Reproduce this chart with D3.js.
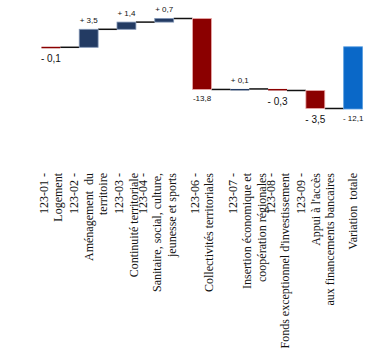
<!DOCTYPE html>
<html>
<head>
<meta charset="utf-8">
<script src="https://cdn.jsdelivr.net/npm/d3@7"></script>
<style>
    body { margin: 0; background: #fff; }
    svg { display: block; }
</style>
</head>
<body>
<svg id="chart" width="376" height="362"></svg>
<script>
// categories (wrapped label lines, blank lines keep the Excel offsets)
const categories = ['123-01', '123-02', '123-03', '123-04', '123-06', '123-07', '123-08', '123-09', 'total'];
const labelLines = [
    ['123-01 -', 'Logement'],
    ['123-02 -', 'Aménagement  du', 'territoire'],
    ['123-03 -', 'Continuité territoriale'],
    ['123-04 -', 'Sanitaire, social, culture,', 'jeunesse et sports', ''],
    ['123-06 -', 'Collectivités territoriales'],
    ['', '123-07 -', 'Insertion économique et', 'coopération régionales'],
    ['123-08 -', 'Fonds exceptionnel d\'investissement'],
    ['123-09 -', 'Appui à l\'accès', 'aux financements bancaires'],
    ['Variation  totale']
];
const deltas = [-0.1, 3.5, 1.4, 0.7, -13.8, 0.1, -0.3, -3.5];
const totalValue = -12.1;
const valueLabels = ['- 0,1', '+ 3,5', '+ 1,4', '+ 0,7', '-13,8', '+ 0,1', '- 0,3', '- 3,5', '- 12,1'];

const bigLabels = new Set([0, 6, 7]);

const svg = d3.select('#chart');

// running totals
let run = 0;
const bars = deltas.map((v, i) => {
    const start = run;
    run += v;
    return { key: categories[i], start: start, end: run, value: v, total: false };
});
bars.push({ key: categories[8], start: 0, end: totalValue, value: totalValue, total: true });

const x = d3.scaleBand()
    .domain(categories)
    .range([32, 372])
    .paddingInner(0.5)
    .paddingOuter(0.25);

const y = d3.scaleLinear()
    .domain([-12.1, 5.5])
    .range([109, 18.5]);

const fillOf = d => d.total ? '#0a68c8' : (d.value < 0 ? '#8b0000' : '#233b63');
const strokeOf = d => d.total ? '#5a9ee0' : (d.value < 0 ? '#e8a8a8' : '#7f93b3');

// connectors
svg.append('g')
    .selectAll('line')
    .data(bars.slice(0, -1))
    .enter()
    .append('line')
    .attr('x1', d => x(d.key) + x.bandwidth())
    .attr('x2', (d, i) => x(bars[i + 1].key))
    .attr('y1', d => y(d.end))
    .attr('y2', d => y(d.end))
    .attr('stroke', '#111')
    .attr('stroke-width', 1.5);

// bars
svg.append('g')
    .selectAll('rect')
    .data(bars)
    .enter()
    .append('rect')
    .attr('x', d => x(d.key))
    .attr('width', x.bandwidth())
    .attr('y', d => y(Math.max(d.start, d.end)))
    .attr('height', d => Math.max(1.5, Math.abs(y(d.start) - y(d.end))))
    .attr('fill', fillOf)
    .attr('stroke', strokeOf)
    .attr('stroke-width', d => Math.abs(y(d.start) - y(d.end)) > 3 ? 0.8 : 0);

// value labels
svg.append('g')
    .selectAll('text')
    .data(bars)
    .enter()
    .append('text')
    .attr('x', d => x(d.key) + x.bandwidth() / 2)
    .attr('y', (d, i) => {
        const off = bigLabels.has(i) ? 11 : 9;
        return d.value >= 0 ? y(Math.max(d.start, d.end)) - off : y(Math.min(d.start, d.end)) + off;
    })
    .attr('dy', '0.35em')
    .attr('text-anchor', 'middle')
    .style('font-family', '"Liberation Sans", Arial, sans-serif')
    .style('font-size', (d, i) => bigLabels.has(i) ? '10px' : '8px')
    .style('fill', '#111')
    .text((d, i) => valueLabels[i]);

// category labels, rotated
const lineGap = 14.5;
const catG = svg.append('g');
categories.forEach((c, ci) => {
    const lines = labelLines[ci];
    const cx = x(c) + x.bandwidth() / 2;
    lines.forEach((t, li) => {
        if (!t) return;
        const lx = cx + (li - (lines.length - 1) / 2) * lineGap;
        catG.append('text')
            .attr('transform', `translate(${lx},173) rotate(-90)`)
            .attr('dy', '0.35em')
            .attr('text-anchor', 'end')
            .style('font-family', '"Liberation Serif", "Times New Roman", serif')
            .style('font-size', '12px')
            .style('fill', '#111')
            .style('white-space', 'pre')
            .text(t);
    });
});
</script>
</body>
</html>
